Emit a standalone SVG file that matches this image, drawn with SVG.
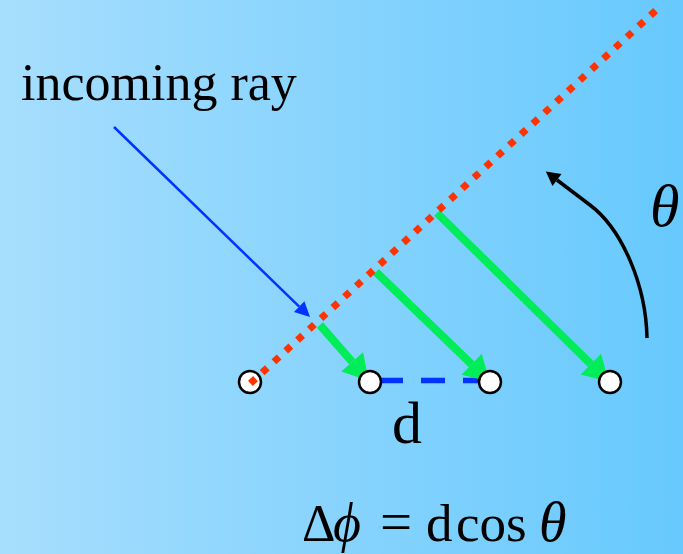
<svg xmlns="http://www.w3.org/2000/svg" width="683" height="554" viewBox="0 0 683 554">
<defs>
<linearGradient id="bg" x1="0" y1="0" x2="1" y2="0">
<stop offset="0" stop-color="#a7defd"/>
<stop offset="1" stop-color="#67c9fd"/>
</linearGradient>
<marker id="ga" markerUnits="userSpaceOnUse" markerWidth="27" markerHeight="30" refX="0" refY="14.5" orient="auto" overflow="visible">
<path d="M0,0 L25,14.5 L0,29 z" fill="#00ec58"/>
</marker>
<marker id="ba" markerUnits="userSpaceOnUse" markerWidth="16" markerHeight="16" refX="0" refY="7.5" orient="auto" overflow="visible">
<path d="M0,0 L15,7.5 L0,15 z" fill="#0033ff"/>
</marker>
<marker id="ka" markerUnits="userSpaceOnUse" markerWidth="16" markerHeight="16" refX="0" refY="7.5" orient="auto" overflow="visible">
<path d="M0,0 L14,7.5 L0,15 z" fill="#000"/>
</marker>
</defs>
<style>
.t{font-family:"Liberation Serif","Times New Roman",serif;fill:#000}
.it{font-style:italic}
.g{stroke:#00ec58;stroke-width:8;fill:none;marker-end:url(#ga)}
.node{fill:#fff;stroke:#000;stroke-width:2.5}
</style>
<rect width="683" height="554" fill="url(#bg)"/>
<g id="connectors">
<line id="incoming" x1="114" y1="127" x2="299.2" y2="306.6" stroke="#0033ff" stroke-width="2.5" marker-end="url(#ba)"/>
<line id="spacing" x1="379" y1="380.5" x2="478" y2="380.5" stroke="#0033ff" stroke-width="5.5" stroke-dasharray="24 18"/>
<line class="g" x1="320" y1="325" x2="352.2" y2="361.9"/>
<line class="g" x1="376" y1="272" x2="471.7" y2="364.3"/>
<line class="g" x1="437" y1="213" x2="590.9" y2="364.2"/>
<path id="angle-arc" d="M647,338 C646,285 622,229 590,205 L557,180" fill="none" stroke="#000" stroke-width="3.5" marker-end="url(#ka)"/>
</g>
<g id="element1"><circle class="node" cx="250" cy="382" r="11"/></g>
<g id="element2"><circle class="node" cx="370" cy="382" r="11"/></g>
<g id="element3"><circle class="node" cx="490" cy="382" r="11"/></g>
<g id="element4"><circle class="node" cx="610" cy="382" r="11"/></g>
<g id="wavefront">
<line x1="250.4" y1="383.4" x2="655.6" y2="10.6" stroke="#ff3300" stroke-width="7" stroke-dasharray="7 8.99"/>
</g>
<g id="label-incoming"><text class="t" x="21" y="100" font-size="52">incoming ray</text></g>
<g id="label-d"><text class="t" x="392" y="443" font-size="60">d</text></g>
<g id="label-theta"><text class="t it" x="650" y="226" font-size="60">θ</text></g>
<g id="formula">
<text class="t" x="302" y="541" font-size="52">Δ</text>
<text class="t it" x="333" y="541" font-size="54">ϕ</text>
<text class="t" x="380" y="541" font-size="57">=</text>
<text class="t" x="426" y="541" font-size="53">d</text>
<text class="t" x="456" y="541" font-size="53">cos</text>
<text class="t it" x="539" y="541" font-size="56">θ</text>
</g>
</svg>
